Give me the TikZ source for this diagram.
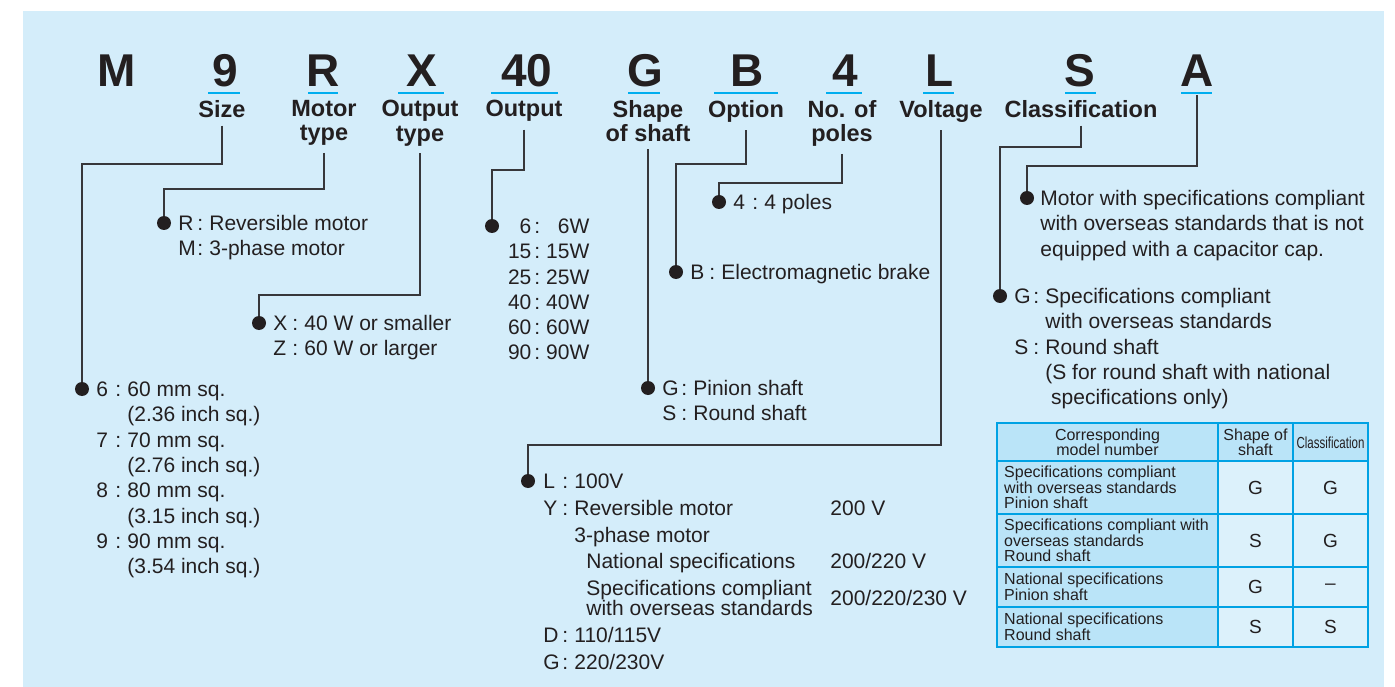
\documentclass[tikz,border=0pt]{standalone}
\usepackage{fontspec}
\setmainfont{Liberation Sans}
\newfontfamily\narrowfont[FakeStretch=0.72]{Liberation Sans}
\usetikzlibrary{positioning}
\definecolor{bgblue}{RGB}{212,237,250}
\definecolor{tabdark}{RGB}{186,228,248}
\definecolor{tablight}{RGB}{220,241,251}
\definecolor{ulcyan}{RGB}{0,174,239}
\definecolor{tabline}{RGB}{0,162,228}
\definecolor{ink}{RGB}{35,31,32}
\definecolor{connline}{RGB}{55,55,58}
\newcommand{\itm}[2]{\makebox[31pt][l]{\makebox[19pt][l]{#1}:}#2}
\newcommand{\cnt}[1]{\hspace*{31pt}#1}
\newcommand{\watt}[2]{\makebox[26pt][r]{#1}\makebox[12pt]{:}\makebox[46pt][r]{#2}}
\tikzset{
  code/.style={font=\fontsize{46}{46}\selectfont\bfseries,text=ink,inner sep=0pt,anchor=base},
  head/.style={font=\fontsize{23.5}{24.5}\selectfont\bfseries,text=ink,align=center,inner sep=0pt,anchor=north},
  uline/.style={draw=ulcyan,line width=2.6pt},
  conn/.style={draw=connline,line width=1.3pt},
  bullet/.style={circle,fill=ink,inner sep=0pt,minimum size=14pt},
  itemtxt/.style={font=\fontsize{21}{25.3}\selectfont,text=ink,inner sep=0pt,anchor=base west},
  tabhead/.style={font=\fontsize{16}{15}\selectfont,text=ink,align=center,inner sep=0pt},
  tabtxt/.style={font=\fontsize{16}{15.6}\selectfont,text=ink,align=left,inner sep=0pt,anchor=west},
  tabkey/.style={font=\fontsize{19}{19}\selectfont,text=ink,inner sep=0pt},
}
\begin{document}
\begin{tikzpicture}[x=1pt,y=-1pt]
  \useasboundingbox (0,0) rectangle (1395,687);
  \fill[bgblue] (23,11) rectangle (1384,687);
  \foreach \n/\txt/\x in {cM/M/117, c9/9/225, cR/R/323, cX/X/422, c40/40/527, cG/G/645, cB/B/747, c4/4/845, cL/L/940, cS/S/1080, cA/A/1197}
    \node[code] (\n) at (\x,87) {\txt};
  \foreach \x/\w in {224/16, 323/15, 421/23, 524.5/33.5, 644/16, 746/32, 844/18, 938.5/15.5, 1080.5/15.5, 1196.5/15.5}
    \draw[uline] (\x-\w,93) -- (\x+\w,93);
  \node[head] (hSize) at (222,100) {Size};
  \node[head] (hMotor) at (324,100) {Motor\\type};
  \node[head] (hOutType) at (420,100) {Output\\type};
  \node[head] (hOutput) at (524,100) {Output};
  \node[head] (hShaft) at (648,100) {Shape\\of shaft};
  \node[head] (hOption) at (746,100) {Option};
  \node[head] (hPoles) at (842,100) {No. of\\poles};
  \node[head] (hVolt) at (941,100) {Voltage};
  \node[head] (hClass) at (1081,100) {Classification};
  \node[bullet] (dSize) at (82,389) {};
  \node[bullet] (dMotor) at (164,223) {};
  \node[bullet] (dOutType) at (259,323) {};
  \node[bullet] (dOutput) at (492,226) {};
  \node[bullet] (dShaft) at (648,388) {};
  \node[bullet] (dOption) at (676,272) {};
  \node[bullet] (dPoles) at (719,202) {};
  \node[bullet] (dVolt) at (528,481) {};
  \node[bullet] (dClass) at (1000,296) {};
  \node[bullet] (dSpec) at (1027,198) {};
  \draw[conn] ([yshift=-8pt]hSize.south) -- (hSize.south |- 0,164) -| (dSize);
  \draw[conn] ([yshift=-7pt]hMotor.south) -- (hMotor.south |- 0,189) -| (dMotor);
  \draw[conn] ([yshift=-7pt]hOutType.south) -- (hOutType.south |- 0,295) -| (dOutType);
  \draw[conn] ([yshift=-8pt]hOutput.south) -- (hOutput.south |- 0,170) -| (dOutput);
  \draw[conn] ([yshift=-7pt]hShaft.south) -- (dShaft);
  \draw[conn] ([yshift=-8pt]hOption.south) -- (hOption.south |- 0,164) -| (dOption);
  \draw[conn] ([yshift=-7pt]hPoles.south) -- (hPoles.south |- 0,183) -| (dPoles);
  \draw[conn] ([yshift=-8pt]hVolt.south) -- (hVolt.south |- 0,445) -| (dVolt);
  \draw[conn] ([yshift=-8pt]hClass.south) -- (hClass.south |- 0,147) -| (dClass);
  \draw[conn] ([yshift=-8pt]cA.south) -- (cA.south |- 0,166) -| (dSpec);
  \node[itemtxt] (tSize) at ([shift={(7pt,-7.5pt)}]dSize.east) {\begin{tabular}[t]{@{}l@{}}
    \itm{6}{60 mm sq.}\\ \cnt{(2.36 inch sq.)}\\
    \itm{7}{70 mm sq.}\\ \cnt{(2.76 inch sq.)}\\
    \itm{8}{80 mm sq.}\\ \cnt{(3.15 inch sq.)}\\
    \itm{9}{90 mm sq.}\\ \cnt{(3.54 inch sq.)}
  \end{tabular}};
  \node[itemtxt] (tMotor) at ([shift={(7pt,-7.5pt)}]dMotor.east) {\begin{tabular}[t]{@{}l@{}}
    \itm{R}{Reversible motor}\\ \itm{M}{3-phase motor}
  \end{tabular}};
  \node[itemtxt] (tOutType) at ([shift={(7pt,-7.5pt)}]dOutType.east) {\begin{tabular}[t]{@{}l@{}}
    \itm{X}{40 W or smaller}\\ \itm{Z}{60 W or larger}
  \end{tabular}};
  \node[itemtxt] (tOutput) at ([shift={(6pt,-7.5pt)}]dOutput.east) {\begin{tabular}[t]{@{}l@{}}
    \watt{6}{6W}\\ \watt{15}{15W}\\ \watt{25}{25W}\\
    \watt{40}{40W}\\ \watt{60}{60W}\\ \watt{90}{90W}
  \end{tabular}};
  \node[itemtxt] (tShaft) at ([shift={(7pt,-7.5pt)}]dShaft.east) {\begin{tabular}[t]{@{}l@{}}
    \itm{G}{Pinion shaft}\\ \itm{S}{Round shaft}
  \end{tabular}};
  \node[itemtxt] (tOption) at ([shift={(7pt,-7.5pt)}]dOption.east) {\itm{B}{Electromagnetic brake}};
  \node[itemtxt] (tPoles) at ([shift={(7pt,-7.5pt)}]dPoles.east) {\itm{4}{4 poles}};
  \node[itemtxt,font=\fontsize{21}{26.8}\selectfont] (tVolt) at ([shift={(8pt,-7.5pt)}]dVolt.east) {\begin{tabular}[t]{@{}l@{}l@{}}
    \makebox[287pt][l]{\itm{L}{100V}} & \\
    \itm{Y}{Reversible motor} & 200 V\\
    \cnt{3-phase motor} & \\
    \hspace*{43pt}National specifications & 200/220 V\\
    \hspace*{43pt}Specifications compliant & \raisebox{-10pt}[0pt][0pt]{200/220/230 V}\\[-6.8pt]
    \hspace*{43pt}with overseas standards & \\
    \itm{D}{110/115V} & \\
    \itm{G}{220/230V} &
  \end{tabular}};
  \node[itemtxt] (tClass) at ([shift={(7pt,-7.5pt)}]dClass.east) {\begin{tabular}[t]{@{}l@{}}
    \itm{G}{Specifications compliant}\\ \cnt{with overseas standards}\\
    \itm{S}{Round shaft}\\ \cnt{(S for round shaft with national}\\
    \cnt{\ specifications only)}
  \end{tabular}};
  \node[itemtxt] (tSpec) at ([shift={(6pt,-7.5pt)}]dSpec.east) {\begin{tabular}[t]{@{}l@{}}
    Motor with specifications compliant\\ with overseas standards that is not\\
    equipped with a capacitor cap.
  \end{tabular}};
  \fill[tabdark] (997,423) rectangle (1368,461);
  \fill[tabdark] (997,461) rectangle (1218,647);
  \fill[tablight] (1218,461) rectangle (1368,647);
  \draw[tabline,line width=1.3pt] (997,423) rectangle (1368,647);
  \draw[tabline,line width=1.1pt] (1218,423) -- (1218,647) (1293,423) -- (1293,647);
  \draw[tabline,line width=1.1pt] (997,461) -- (1368,461) (997,514) -- (1368,514) (997,567) -- (1368,567) (997,607) -- (1368,607);
  \node[tabhead] (thModel) at (1107.5,442) {Corresponding\\model number};
  \node[tabhead] (thShape) at (1255.5,442) {Shape of\\shaft};
  \node[tabhead,font=\fontsize{16}{15}\selectfont\narrowfont] (thClass) at (1330.5,443) {Classification};
  \node[tabtxt] (r1) at (1004,487.5) {Specifications compliant\\with overseas standards\\Pinion shaft};
  \node[tabtxt] (r2) at (1004,540.5) {Specifications compliant with\\overseas standards\\Round shaft};
  \node[tabtxt] (r3) at (1004,587) {National specifications\\Pinion shaft};
  \node[tabtxt] (r4) at (1004,627) {National specifications\\Round shaft};
  \node[tabkey] (k1a) at (1255.5,487.5) {G};
  \node[tabkey] (k1b) at (1330.5,487.5) {G};
  \node[tabkey] (k2a) at (1255.5,540.5) {S};
  \node[tabkey] (k2b) at (1330.5,540.5) {G};
  \node[tabkey] (k3a) at (1255.5,587) {G};
  \node[tabkey] (k3b) at (1330.5,587) {--};
  \node[tabkey] (k4a) at (1255.5,627) {S};
  \node[tabkey] (k4b) at (1330.5,627) {S};
\end{tikzpicture}
\end{document}
